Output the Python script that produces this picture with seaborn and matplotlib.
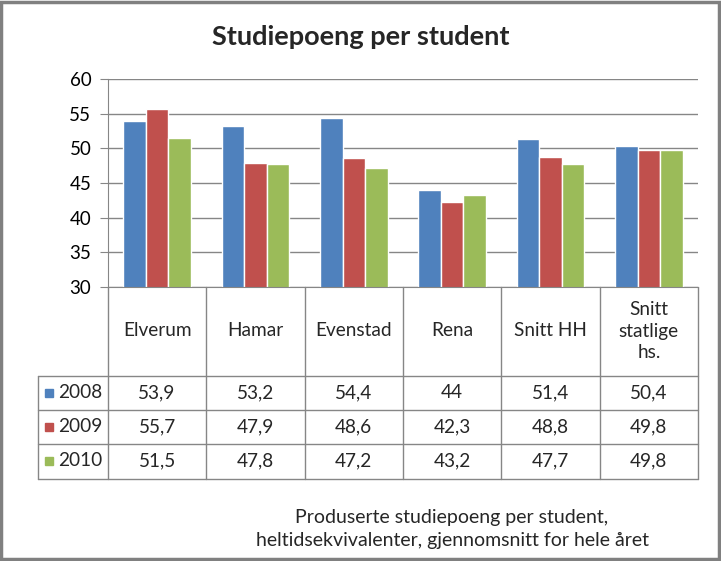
import matplotlib
matplotlib.use("Agg")
import matplotlib.pyplot as plt
import matplotlib.transforms as mtransforms
from matplotlib.patches import Rectangle
import seaborn as sns
import pandas as pd

categories = ["Elverum", "Hamar", "Evenstad", "Rena", "Snitt HH", "Snitt\nstatlige\nhs."]
years = ["2008", "2009", "2010"]
v2008 = [53.9, 53.2, 54.4, 44.0, 51.4, 50.4]
v2009 = [55.7, 47.9, 48.6, 42.3, 48.8, 49.8]
v2010 = [51.5, 47.8, 47.2, 43.2, 47.7, 49.8]
labels2008 = ["53,9", "53,2", "54,4", "44", "51,4", "50,4"]
labels2009 = ["55,7", "47,9", "48,6", "42,3", "48,8", "49,8"]
labels2010 = ["51,5", "47,8", "47,2", "43,2", "47,7", "49,8"]
colors = ["#4F81BD", "#C0504D", "#9BBB59"]
title = "Studiepoeng per student"
note = "Produserte studiepoeng per student,\nheltidsekvivalenter, gjennomsnitt for hele året"

rows = []
for yr, vals in zip(years, [v2008, v2009, v2010]):
    for c, v in zip(categories, vals):
        rows.append({"cat": c, "year": yr, "value": v})
df = pd.DataFrame(rows)

sns.set_style("white")
plt.rcParams["font.family"] = ["Lato", "DejaVu Sans"]

W, H = 721, 561
fig = plt.figure(figsize=(W / 100, H / 100), dpi=100)
def fx(x): return x / W
def fy(y): return 1 - y / H

ax = fig.add_axes([fx(108), fy(287), fx(698) - fx(108), fy(79) - fy(287)])
sns.barplot(data=df, x="cat", y="value", hue="year", order=categories, hue_order=years,
            palette=colors, width=0.69, ax=ax, legend=False, saturation=1, gap=0)
ax.set_ylim(30, 60)
ax.set_xlim(-0.5, len(categories) - 0.5)
ax.set_yticks(range(30, 61, 5))
ax.yaxis.grid(True, color="#868686", linewidth=1)
ax.set_axisbelow(True)
ax.set_xlabel("")
ax.set_ylabel("")
ax.set_xticks([])
for s in ["top", "right"]:
    ax.spines[s].set_visible(False)
ax.spines["left"].set_color("#868686")
ax.spines["bottom"].set_color("#868686")
ax.tick_params(axis="y", which="both", left=True, length=6, color="#868686",
               labelsize=13.5, pad=6, labelcolor="black")

gray = "#868686"
# table lines
col_edges = [fx(108 + i * (698 - 108) / len(categories)) for i in range(len(categories) + 1)]
for xe in col_edges:
    fig.add_artist(plt.Line2D([xe, xe], [fy(287), fy(479)], color=gray, lw=1, transform=fig.transFigure))
fig.add_artist(plt.Line2D([fx(38), fx(38)], [fy(376), fy(479)], color=gray, lw=1, transform=fig.transFigure))
for yl in [376, 410, 444, 479]:
    fig.add_artist(plt.Line2D([fx(38), fx(698)], [fy(yl), fy(yl)], color=gray, lw=1, transform=fig.transFigure))

trans = mtransforms.blended_transform_factory(ax.transData, fig.transFigure)
fs = 13.7
for i, c in enumerate(categories):
    ax.text(i, fy(331), c, transform=trans, ha="center", va="center", fontsize=fs,
            linespacing=1.35, clip_on=False)
row_y = [393, 427, 461]
for r, (yr, labs, col) in enumerate(zip(years, [labels2008, labels2009, labels2010], colors)):
    for i, lab in enumerate(labs):
        ax.text(i, fy(row_y[r]), lab, transform=trans, ha="center", va="center", fontsize=fs, clip_on=False)
    fig.add_artist(Rectangle((fx(45), fy(row_y[r] + 4)), fx(8), 8 / H, color=col, transform=fig.transFigure))
    fig.text(fx(58), fy(row_y[r]), yr, ha="left", va="center", fontsize=fs)

fig.text(fx(361), fy(37), title, ha="center", va="center", fontsize=19.5, fontweight="bold")
fig.text(fx(452), fy(529), note, ha="center", va="center", fontsize=14, linespacing=1.42)

fig.add_artist(Rectangle((fx(1), fy(559)), fx(718), 557 / H, fill=False, edgecolor="#808080",
                         lw=2.5, transform=fig.transFigure))

fig.savefig("out.png", dpi=100)
